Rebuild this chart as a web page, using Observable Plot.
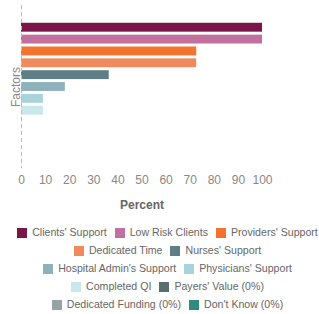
<!DOCTYPE html>
<html>
<head>
<meta charset="utf-8">
<script src="https://cdn.jsdelivr.net/npm/d3@7"></script>
<script src="https://cdn.jsdelivr.net/npm/@observablehq/plot@0.6"></script>
<style>
  html, body { margin: 0; padding: 0; background: #fff; }
  body { width: 319px; font-family: "Liberation Sans", Arial, sans-serif; }
  #legend { display: flex; flex-wrap: wrap; justify-content: center; column-gap: 8px; row-gap: 5px;
            width: 303px; margin-left: 16px; margin-top: 11px; font-size: 10.6px; color: #666; line-height: 13px; }
  .item { display: flex; align-items: center; white-space: nowrap; }
  .sw { width: 10px; height: 10px; margin-right: 5px; display: inline-block; }
</style>
</head>
<body>
<div id="chart"></div>
<div id="legend"></div>
<script>
const factors = ["Clients' Support", "Low Risk Clients", "Providers' Support", "Dedicated Time",
  "Nurses' Support", "Hospital Admin's Support", "Physicians' Support", "Completed QI",
  "Payers' Value", "Dedicated Funding", "Don't Know"];
const percents = [100, 100, 72.7, 72.7, 36.4, 18.2, 9.1, 9.1, 0, 0, 0];
const colors = ["#7c1548", "#c2719f", "#f5732f", "#ee8a5d", "#5f7e86", "#8fb1bb",
  "#a9d3da", "#c8e8eb", "#5c6d6d", "#94a4a4", "#2f8b7d"];
const legendLabels = ["Clients' Support", "Low Risk Clients", "Providers' Support", "Dedicated Time",
  "Nurses' Support", "Hospital Admin's Support", "Physicians' Support", "Completed QI",
  "Payers' Value (0%)", "Dedicated Funding (0%)", "Don't Know (0%)"];
const xTicks = [0, 10, 20, 30, 40, 50, 60, 70, 80, 90, 100];

const data = factors.map((f, i) => ({factor: f, value: percents[i]}));

const chart = Plot.plot({
  width: 319,
  height: 215,
  marginLeft: 21,
  marginRight: 57,
  marginTop: 5,
  marginBottom: 47,
  style: {fontFamily: "'Liberation Sans', Arial, sans-serif", background: "#fff"},
  x: {domain: [0, 100]},
  y: {domain: factors, paddingInner: 0.25, paddingOuter: 1.5, round: false},
  color: {domain: factors, range: colors},
  marks: [
    Plot.barX(data, {y: "factor", x: "value", fill: "factor"}),
    Plot.ruleX([0], {stroke: "#bbb", strokeDasharray: "4,3"}),
    Plot.axisX({ticks: xTicks, tickSize: 0, tickPadding: 7, fontSize: 12, fill: "#888",
      label: "Percent", labelAnchor: "center", labelArrow: "none", labelOffset: 40}),
    Plot.axisY({tickSize: 0, tickFormat: () => "", label: "Factors", labelAnchor: "center",
      labelArrow: "none", labelOffset: 10, fontSize: 12, fill: "#888"})
  ]
});
document.getElementById("chart").appendChild(chart);
chart.querySelectorAll("text").forEach(t => {
  if (t.textContent === "Percent") { t.setAttribute("font-weight", "bold"); t.setAttribute("fill", "#666"); t.setAttribute("font-size", "12"); }
  if (t.textContent === "Factors") { t.setAttribute("font-size", "12"); }
});

const legend = document.getElementById("legend");
legendLabels.forEach((lab, i) => {
  const it = document.createElement("div");
  it.className = "item";
  const sw = document.createElement("span");
  sw.className = "sw";
  sw.style.background = colors[i];
  it.appendChild(sw);
  it.appendChild(document.createTextNode(lab));
  legend.appendChild(it);
});
</script>
</body>
</html>
